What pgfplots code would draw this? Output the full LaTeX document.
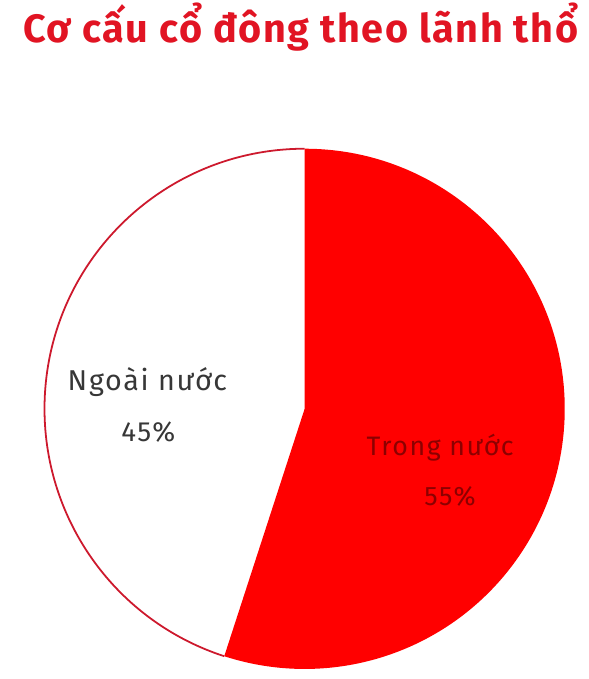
\documentclass[border=0pt]{standalone}
\usepackage{fontspec}
\setmainfont{Fira Sans}
\usepackage{pgfplots}
\pgfplotsset{compat=1.18}
\definecolor{pied}{RGB}{255,0,0}
\definecolor{edge}{RGB}{205,25,45}
\definecolor{titlered}{RGB}{225,20,35}
\definecolor{lab}{RGB}{55,55,55}
\definecolor{labin}{RGB}{140,0,0}
% shares (percent)
\def\trong{55}
\def\ngoai{45}
\def\cx{308}
\def\cy{269}
\def\rad{263}
\pgfmathsetmacro\endang{90-3.6*\trong}
\pgfmathsetmacro\whiteend{90+3.6*\ngoai}
\begin{document}
\begin{tikzpicture}
\begin{axis}[
  width=595pt, height=679pt, scale only axis,
  xmin=0, xmax=595, ymin=0, ymax=679,
  hide axis, clip=false]
\path (axis cs:0,0) rectangle (axis cs:595,679);
% white slice (Ngoai nuoc)
\fill[white] (axis cs:\cx,\cy) -- ++(90:\rad pt) arc[start angle=90, end angle=\whiteend, radius=\rad pt] -- cycle;
% red slice (Trong nuoc)
\fill[pied] (axis cs:\cx,\cy) -- ++(90:\rad pt) arc[start angle=90, end angle=\endang, radius=\rad pt] -- cycle;
\draw[edge, line width=1.8pt] (axis cs:\cx,\cy) ++(90:\rad pt) arc[start angle=90, end angle=\whiteend, radius=\rad pt];
\node[anchor=base, text=titlered, font=\fontsize{40}{44}\selectfont\bfseries\addfontfeatures{LetterSpace=4}] at (axis cs:304,639) {Cơ cấu cổ đông theo lãnh thổ};
\node[anchor=base, text=lab, font=\fontsize{29}{32}\selectfont\addfontfeatures{LetterSpace=6}] at (axis cs:149,288) {Ngoài nước};
\node[anchor=base, text=lab, font=\fontsize{28}{32}\selectfont\addfontfeatures{LetterSpace=6}] at (axis cs:150,236) {45\%};
\node[anchor=base, text=labin, font=\fontsize{27}{30}\selectfont\addfontfeatures{LetterSpace=6}] at (axis cs:445,222) {Trong nước};
\node[anchor=base, text=labin, font=\fontsize{27}{30}\selectfont\addfontfeatures{LetterSpace=6}] at (axis cs:455,171) {55\%};
\end{axis}
\end{tikzpicture}
\end{document}
